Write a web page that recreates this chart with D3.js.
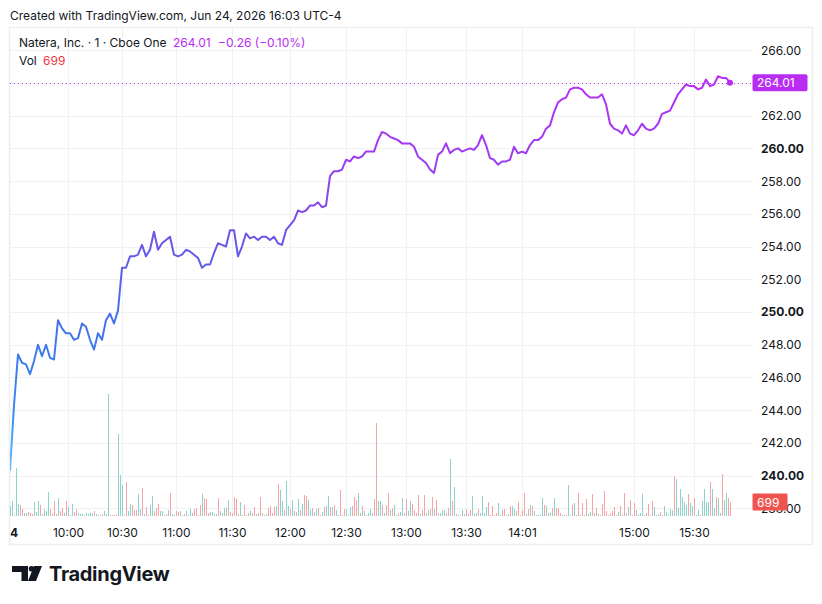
<!DOCTYPE html>
<html>
<head>
<meta charset="utf-8">
<script src="https://cdn.jsdelivr.net/npm/d3@7"></script>
<style>
  body { margin: 0; background: #fff; }
  text { font-family: Inter, "Noto Sans", sans-serif; }
</style>
</head>
<body>
<svg width="822" height="604"></svg>
<script>
// price, sampled every 2 one-minute bars (09:30 -> 16:00)
var price = [
  240.3, 244.3, 247.4, 246.9, 246.8, 246.2, 247.0, 248.0, 247.3, 248.0,
  247.2, 247.1, 249.5, 249.0, 248.7, 248.7, 248.3, 248.4, 249.3, 249.1,
  248.3, 247.7, 248.7, 248.3, 249.5, 249.9, 249.3, 250.1, 252.7, 252.7,
  253.4, 253.4, 253.5, 254.1, 253.4, 253.8, 254.9, 253.8, 254.2, 254.4,
  254.6, 253.5, 253.4, 253.5, 253.8, 253.7, 253.5, 253.3, 252.7, 252.9,
  252.9, 253.6, 254.2, 254.1, 254.0, 255.0, 255.0, 253.4, 254.0, 254.8,
  254.5, 254.6, 254.4, 254.6, 254.6, 254.4, 254.6, 254.2, 254.1, 255.0,
  255.3, 255.6, 256.2, 256.1, 256.2, 256.5, 256.5, 256.7, 256.4, 256.5,
  258.3, 258.6, 258.6, 258.7, 259.3, 259.2, 259.5, 259.4, 259.5, 259.8,
  259.8, 259.8, 260.5, 261.0, 260.9, 260.7, 260.6, 260.5, 260.3, 260.3,
  260.3, 260.1, 259.5, 259.3, 259.1, 258.7, 258.5, 259.6, 259.8, 260.3,
  259.7, 259.9, 260.0, 259.8, 259.9, 260.0, 259.9, 260.2, 260.8, 260.2,
  259.4, 259.3, 259.0, 259.2, 259.2, 259.3, 260.1, 259.7, 259.8, 259.7,
  260.2, 260.5, 260.5, 260.7, 261.2, 261.4, 262.2, 262.8, 263.0, 263.1,
  263.6, 263.7, 263.7, 263.6, 263.3, 263.1, 263.1, 263.1, 263.3, 262.7,
  261.5, 261.2, 261.1, 260.9, 261.4, 260.9, 260.8, 261.1, 261.5, 261.2,
  261.1, 261.2, 261.5, 262.1, 262.2, 262.3, 262.8, 263.3, 263.6, 263.9,
  263.8, 263.8, 263.6, 263.7, 264.2, 263.8, 263.9, 264.4, 264.3, 264.3,
  264.01
];

// volume per one-minute bar
var volume = [
  500,
  750, 50, 2400, 600, 550, 350, 150, 150, 200, 150, 100,
  700, 200, 750, 550, 100, 350, 250, 1200, 350, 100,
  750, 100, 900, 250, 400, 150, 750, 450, 50, 600,
  200, 350, 150, 100, 100, 50, 150, 100, 150, 150,
  250, 100, 50, 50, 100, 250, 100, 6100, 50, 50,
  50, 50, 4100, 2050, 1550, 50, 1700, 250, 600, 550,
  300, 300, 1100, 350, 1400, 100, 450, 50, 550, 1000,
  250, 400, 600, 250, 250, 50, 100, 300, 1150, 100,
  50, 250, 200, 250, 50, 100, 250, 50, 350,
  150, 350, 400, 50, 550, 1100, 900, 850, 150, 200,
  200, 100, 100, 900, 250, 150, 400, 400, 800, 200,
  150, 950, 850, 100, 700, 50, 550, 50, 150, 250,
  150, 450, 100, 150, 950, 150, 50, 100, 400, 500,
  150, 450, 500, 1600, 1300, 750, 300, 1750, 500, 350,
  800, 250, 200, 850, 300, 600, 1050, 1000, 800, 300,
  400, 200, 350, 400, 50, 200, 450, 500, 1000, 450,
  450, 550, 300, 50, 1300, 50, 350, 350, 50, 450,
  500, 950, 800, 1150, 150, 500, 250, 50, 150, 350,
  150, 850, 4650,
  750, 750, 550, 150, 550, 1150, 300, 400, 550, 50,
  150, 200, 900, 150, 850, 250, 750, 600, 300, 150,
  1050, 100, 300, 1050, 150, 300, 350, 950, 350, 800,
  150, 150, 300, 300, 150, 400, 2850, 750, 1450, 100,
  50, 30, 300, 100, 350, 100, 300, 1000, 100, 150,
  350, 150, 1000, 150, 450, 700, 50, 500, 50, 150,
  650, 50, 300, 350, 50, 100, 500, 500, 350, 250,
  700, 50, 300, 1150, 100, 350, 550, 500, 250, 50,
  50, 50, 900, 550, 500, 150, 150, 400, 900, 400,
  400, 150, 50,
  50, 50, 1550, 50, 550, 650, 50, 1150, 50, 650,
  50, 850, 100, 200, 1100, 150, 400, 100, 50, 600,
  1250, 250, 50, 150, 250, 450, 50, 200, 500, 50,
  1150, 150, 450, 800, 50, 650, 300, 50, 150, 1100,
  50, 150, 600, 50, 750, 450, 50, 100, 200, 50,
  500, 200, 50, 350, 300, 2000, 1850, 400, 1350, 950,
  700, 550, 1100, 650, 500, 900, 50, 300, 50, 750,
  1350, 700, 700, 1700, 1350, 400, 950, 900, 150, 2100,
  800, 1150, 900, 699
];

// bar direction: g = up, r = down
var volDir = (
  "g," +
  "g,g,g,g,r,r,g,g,r,r,r," +
  "g,g,g,r,g,g,g,g,r,r," +
  "r,g,g,r,r,g,r,g,g,g," +
  "r,r,g,g,g,g,g,g,g,g," +
  "r,g,g,r,r,g,g,g,r,r," +
  "r,r,g,g,g,r,r,g,g,r," +
  "r,r,g,g,r,g,r,r,g,g," +
  "r,r,r,g,g,r,r,g,r,g," +
  "g,r,r,g,r,r,g,g,g," +
  "r,r,r,g,r,g,r,r,r,g,g,g,r,r,g,g,g,r,g,r,r,r,r,g,g,r,r,g,r,g," +
  "r,r,g,r,r,g,r,g,r,r,r,r,g,r,g,g,r,g,g,r,g,r,g,g,r,g,r,r,g,g," +
  "r,g,g,r,g,g,r,g,g,r,g,r,g,g,r,r,r,g,g,g,r,r,r,g,g,r,g,r,g,g,r,r,r," +
  "g,g,r,g,r,r,g,r,g,g,r,g,g,r,r,g,g,r,r,r,r,g,r,r,g,g,r,r,g,r," +
  "r,g,g,g,r,r,g,r,g,r,g,r,g,g,r,r,r,g,g,g,r,g,g,g,g,r,r,r,r,r," +
  "g,g,r,r,g,g,r,g,g,r,r,g,r,r,g,r,g,r,g,g,g,g,g,r,g,g,g,r,g,r,r,r,g," +
  "r,r,g,g,r,g,g,r,r,r,g,r,g,g,r,g,r,r,g,r,r,r,g,r,r,r,g,g,r,g," +
  "r,g,g,r,r,r,g,g,g,g,r,r,r,g,r,g,g,g,r,r,g,g,g,g,g,r,g,g,g,g," +
  "g,g,r,g,g,r,g,g,r,g,g,g,g,r,g,g,r,g,g,r,g,g,r,r"
).split(",");

var priceTicks = [238, 240, 242, 244, 246, 248, 250, 252, 254, 256, 258, 260, 262, 264, 266];
var timeLabels = ["24", "10:00", "10:30", "11:00", "11:30", "12:00", "12:30", "13:00", "13:30", "14:01", "15:00", "15:30"];
var timeBars = [0, 29, 56, 83, 111, 140, 168, 198, 228, 256, 312, 342];

var lastPrice = 264.01, change = "\u22120.26 (\u22120.10%)", lastVol = 699;

var purple = "#b92cf2", red = "#ef5350";

var svg = d3.select("svg");

// pane area
var paneL = 10, paneR = 812, paneT = 28, paneB = 544;
var plotR = 752, plotB = 518;

var x = d3.scaleLinear().domain([0, volume.length - 1]).range([10, 730]);
var y = d3.scaleLinear().domain([238, 266]).range([508.4, 50.1]);
var yVol = d3.scaleLinear().domain([0, 6500]).range([516, 386]);

var defs = svg.append("defs");
defs.append("clipPath").attr("id", "plotClip")
  .append("rect").attr("x", paneL).attr("y", paneT).attr("width", plotR - paneL).attr("height", plotB - paneT);
defs.append("clipPath").attr("id", "paneClip")
  .append("rect").attr("x", paneL + 0.5).attr("y", paneT).attr("width", paneR - paneL).attr("height", paneB - paneT);

var grad = defs.append("linearGradient").attr("id", "lineGrad")
  .attr("gradientUnits", "userSpaceOnUse")
  .attr("x1", 0).attr("x2", 0)
  .attr("y1", y(240)).attr("y2", y(264.5));
[[0, "#6cc3f6"], [0.16, "#3a8bef"], [0.33, "#3f78ea"], [0.49, "#5564e8"],
 [0.65, "#7a4cec"], [0.82, "#a03af2"], [1, "#b82ef4"]].forEach(function(s) {
  grad.append("stop").attr("offset", s[0]).attr("stop-color", s[1]);
});

// header
svg.append("text")
  .attr("x", 10).attr("y", 19.5)
  .style("font-size", "12px").style("fill", "#131722")
  .text("Created with TradingView.com, Jun 24, 2026 16:03 UTC-4");

// grid
var grid = svg.append("g").attr("clip-path", "url(#plotClip)");
grid.selectAll(".hgrid")
  .data(priceTicks)
  .enter()
    .append("line")
    .attr("x1", paneL).attr("x2", plotR)
    .attr("y1", function(d) { return Math.round(y(d)) + 0.5; })
    .attr("y2", function(d) { return Math.round(y(d)) + 0.5; })
    .style("stroke", "#f0f1f4");
grid.selectAll(".vgrid")
  .data(timeBars.slice(1))
  .enter()
    .append("line")
    .attr("x1", function(d) { return Math.round(x(d)) + 0.5; })
    .attr("x2", function(d) { return Math.round(x(d)) + 0.5; })
    .attr("y1", paneT).attr("y2", plotB)
    .style("stroke", "#f0f1f4");

// pane border
svg.append("rect")
  .attr("x", paneL - 0.5).attr("y", paneT - 0.5)
  .attr("width", paneR - paneL + 1).attr("height", paneB - paneT + 1)
  .style("fill", "none").style("stroke", "#eceef2").style("stroke-width", 1.5);

var plot = svg.append("g").attr("clip-path", "url(#plotClip)");

// volume bars
plot.selectAll(".vol")
  .data(volume)
  .enter()
    .append("rect")
    .attr("x", function(d, i) { return x(i); })
    .attr("width", 1)
    .attr("y", function(d) { return yVol(d); })
    .attr("height", function(d) { return yVol(0) - yVol(d); })
    .style("fill", function(d, i) { return volDir[i] === "g" ? "#8ed3cb" : "#f7a5a4"; });

// last price dotted line
plot.append("line")
  .attr("x1", paneL).attr("x2", plotR)
  .attr("y1", Math.round(y(lastPrice)) + 0.5).attr("y2", Math.round(y(lastPrice)) + 0.5)
  .style("stroke", purple).style("stroke-width", 1)
  .style("stroke-dasharray", "1,3");

// price line
var line = d3.line()
  .x(function(d, i) { return x(i * 2); })
  .y(function(d) { return y(d); });
plot.append("path")
  .datum(price)
  .attr("d", line)
  .style("fill", "none")
  .style("stroke", "url(#lineGrad)")
  .style("stroke-width", 2)
  .style("stroke-linejoin", "round");

plot.append("circle")
  .attr("cx", x((price.length - 1) * 2)).attr("cy", y(lastPrice))
  .attr("r", 3)
  .style("fill", purple);

// price axis labels (hide the one covered by the last price tag)
svg.selectAll(".ylab")
  .data(priceTicks.filter(function(d) { return Math.abs(y(d) - y(lastPrice)) > 12; }))
  .enter()
    .append("text")
    .attr("x", 761)
    .attr("y", function(d) { return y(d) + 4.5; })
    .style("font-size", "12px")
    .style("fill", "#131722")
    .style("font-weight", function(d) { return d % 10 === 0 ? "700" : "400"; })
    .text(function(d) { return d.toFixed(2); });

// last price label
svg.append("rect")
  .attr("x", 752.5).attr("y", y(lastPrice) - 8.5)
  .attr("width", 55).attr("height", 17).attr("rx", 2)
  .style("fill", purple);
svg.append("text")
  .attr("x", 757).attr("y", y(lastPrice) + 4.5)
  .style("font-size", "12px").style("fill", "#fff")
  .text(lastPrice.toFixed(2));

// last volume label
svg.append("rect")
  .attr("x", 752.5).attr("y", yVol(lastVol) - 8.5)
  .attr("width", 35).attr("height", 17).attr("rx", 1)
  .style("fill", red);
svg.append("text")
  .attr("x", 757).attr("y", yVol(lastVol) + 4.5)
  .style("font-size", "12px").style("fill", "#fff")
  .text(lastVol);

// time axis labels
svg.append("g").attr("clip-path", "url(#paneClip)")
  .selectAll("text")
  .data(timeLabels)
  .enter()
    .append("text")
    .attr("x", function(d, i) { return x(timeBars[i]) + 0.5; })
    .attr("y", 536.5)
    .attr("text-anchor", "middle")
    .style("font-size", "12px")
    .style("fill", "#131722")
    .style("font-weight", function(d, i) { return i === 0 ? "700" : "400"; })
    .text(function(d) { return d; });

// legend
var leg1 = svg.append("text").attr("x", 19).attr("y", 47).style("font-size", "12px");
leg1.append("tspan").style("fill", "#131722").text("Natera, Inc. \u00b7 1 \u00b7 Cboe One");
leg1.append("tspan").attr("x", 173).style("fill", purple).text(lastPrice.toFixed(2));
leg1.append("tspan").attr("x", 218).style("fill", purple).text(change);

var leg2 = svg.append("text").attr("x", 19).attr("y", 64.5).style("font-size", "12px");
leg2.append("tspan").style("fill", "#131722").text("Vol");
leg2.append("tspan").attr("x", 43).style("fill", "#f23645").text(lastVol);

// TradingView logo
var logo = svg.append("g").style("fill", "#131722");
logo.append("path").attr("d", "M12 566 H28 V581 H21.5 V572 H12 Z");
logo.append("circle").attr("cx", 31.5).attr("cy", 568.8).attr("r", 2.8);
logo.append("path").attr("d", "M34 566 H42 L36 581 H28 Z");
logo.append("text")
  .attr("x", 49).attr("y", 581)
  .style("font-size", "20px").style("font-weight", "700")
  .style("letter-spacing", "-0.3px")
  .text("TradingView");
</script>
</body>
</html>
